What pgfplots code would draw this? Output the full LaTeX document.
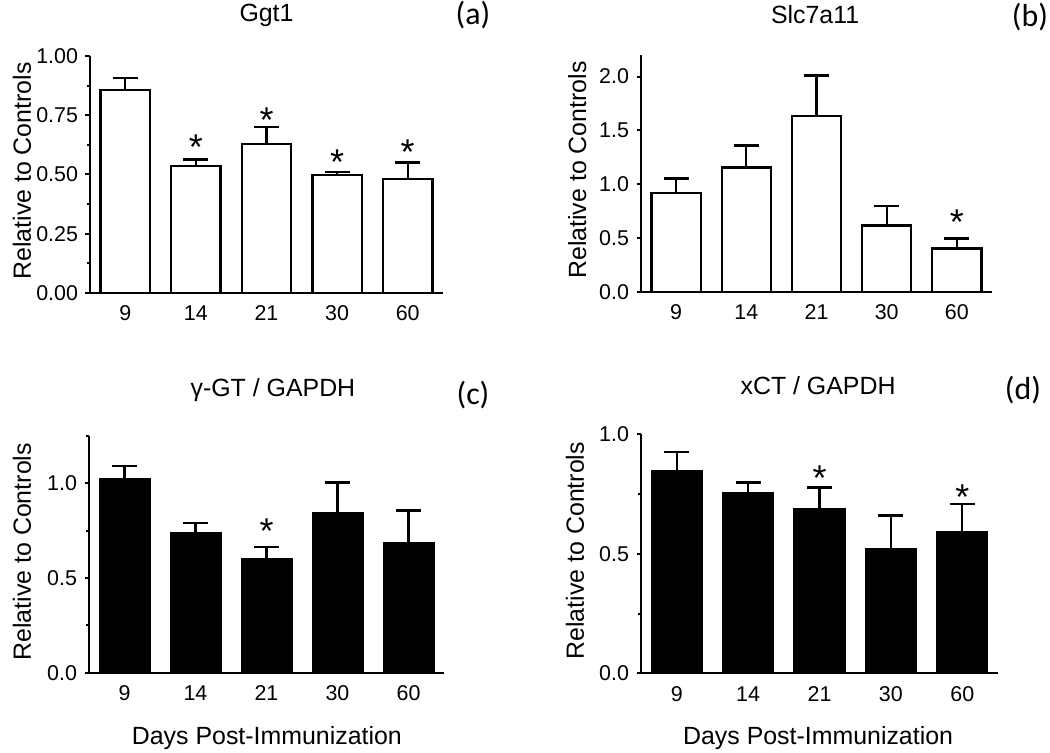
\documentclass[border=0pt]{standalone}
\usepackage{pgfplots}
\pgfplotsset{compat=1.18}
\usepackage{fontspec}
\setmainfont{Liberation Sans}
\newfontfamily\carlito{Carlito}

\pgfplotstableread{
x y e
0 0.856 0.050
1 0.535 0.028
2 0.628 0.071
3 0.499 0.011
4 0.480 0.071
}\dataA
\pgfplotstableread{
x y e
0 0.918 0.133
1 1.153 0.207
2 1.632 0.377
3 0.615 0.179
4 0.402 0.093
}\dataB
\pgfplotstableread{
x y e
0 1.021 0.071
1 0.739 0.053
2 0.602 0.062
3 0.845 0.159
4 0.683 0.174
}\dataC
\pgfplotstableread{
x y e
0 0.847 0.080
1 0.752 0.046
2 0.686 0.092
3 0.520 0.140
4 0.589 0.120
}\dataD

\tikzset{letter/.style={font=\carlito\fontsize{32}{38}\selectfont}}

\pgfplotsset{
  every axis title shift=0pt,
  panel/.style={
    scale only axis,
    anchor=south west,
    axis x line=bottom, axis y line=left,
    axis line style={-, line width=2bp, black},
    xmin=-0.5, xmax=4.5, ymin=0,
    xtick={0,1,2,3,4}, xticklabels={9,14,21,30,60},
    x tick style={draw=none},
    y tick style={line width=2bp, black},
    tick align=outside,
    major tick length=4.5bp, minor tick length=3bp,
    ticklabel style={font=\fontsize{21.5}{25}\selectfont},
    yticklabel style={xshift=-4bp},
    xticklabel style={yshift=-5bp},
    title style={font=\fontsize{25}{30}\selectfont, at={(0.5,1)}, anchor=center},
    ylabel={Relative to Controls},
    ylabel style={font=\fontsize{25}{30}\selectfont, anchor=center},
    xlabel style={font=\fontsize{25}{30}\selectfont, anchor=center},
    clip=false,
  },
  bars/.style={ybar, bar width=0.7, draw=black, line width=2.3bp, fill=#1,
    error bars/.cd, y dir=plus, y explicit,
    error bar style={line width=2.3bp, black},
    error mark options={rotate=90, mark size=12.5bp, line width=2.3bp, black}},
  stars/.style={draw=none, mark=none, nodes near coords={*},
    every node near coord/.append style={font=\fontsize{36}{40}\selectfont, anchor=base, inner sep=0pt, yshift=-20.7bp}},
}

\begin{document}
\begin{tikzpicture}
\useasboundingbox (0,0) rectangle (1050bp,753bp);

% (a)
\begin{axis}[panel, at={(90bp,460bp)}, width=353bp, height=237bp,
  ymax=1,
  ytick={0,0.25,0.5,0.75,1}, yticklabels={0.00,0.25,0.50,0.75,1.00},
  minor ytick={0.125,0.375,0.625,0.875},
  title={Ggt1}, title style={yshift=41bp},
  ylabel style={at={(axis description cs:-0.193,0.515)}}]
\addplot[bars=white] table[x=x, y=y, y error=e] {\dataA};
\addplot[stars] coordinates {(1,0.652) (2,0.765) (3,0.589) (4,0.631)};
\end{axis}
\node[letter] at (473bp,738bp) {(a)};

% (b)
\begin{axis}[panel, at={(641bp,461.3bp)}, width=351bp, height=236.7bp,
  ymax=2.2,
  ytick={0,0.5,1,1.5,2}, yticklabels={0.0,0.5,1.0,1.5,2.0},
  title={Slc7a11}, title style={yshift=40bp, at={(0.496,1)}},
  ylabel style={at={(axis description cs:-0.182,0.514)}}]
\addplot[bars=white] table[x=x, y=y, y error=e] {\dataB};
\addplot[stars] coordinates {(4,0.726)};
\end{axis}
\node[letter] at (1030bp,736bp) {(b)};

% (c)
\begin{axis}[panel, at={(89bp,80.3bp)}, width=355bp, height=236.7bp,
  ymax=1.25,
  ytick={0,0.5,1}, yticklabels={0.0,0.5,1.0},
  minor ytick={0.25,0.75,1.25},
  title={γ-GT / GAPDH}, title style={yshift=46bp, at={(0.518,1)}},
  ylabel style={at={(axis description cs:-0.189,0.511)}},
  xlabel={Days Post-Immunization},
  xlabel style={at={(axis description cs:0.501,0)}, yshift=-65bp}]
\addplot[bars=black] table[x=x, y=y, y error=e] {\dataC};
\addplot[stars] coordinates {(2,0.792)};
\end{axis}
\node[letter] at (473bp,358bp) {(c)};

% (d)
\begin{axis}[panel, at={(641bp,79.7bp)}, width=357bp, height=239bp,
  ymax=1,
  ytick={0,0.5,1}, yticklabels={0.0,0.5,1.0},
  minor ytick={0.25,0.75},
  title={xCT / GAPDH}, title style={yshift=49bp, at={(0.496,1)}},
  ylabel style={at={(axis description cs:-0.185,0.513)}},
  xlabel={Days Post-Immunization},
  xlabel style={at={(axis description cs:0.496,0)}, yshift=-65bp}]
\addplot[bars=black] table[x=x, y=y, y error=e] {\dataD};
\addplot[stars] coordinates {(2,0.851) (4,0.770)};
\end{axis}
\node[letter] at (1023bp,363bp) {(d)};

\end{tikzpicture}
\end{document}
